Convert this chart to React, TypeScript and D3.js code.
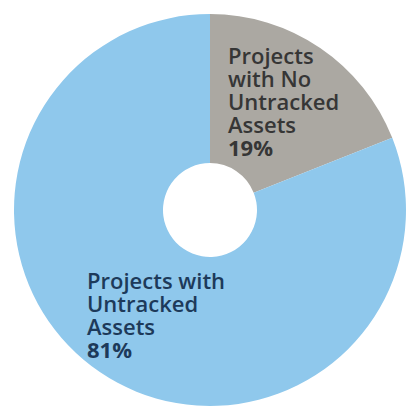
import React from "react";
import * as d3 from "d3";

const categories = ["Projects with No Untracked Assets", "Projects with Untracked Assets"];
const values = [19, 81];
const labelLines = [
  ["Projects", "with No", "Untracked", "Assets"],
  ["Projects with", "Untracked", "Assets"],
];
const colors = ["#aba8a2", "#8fc8ec"];
const textColors = ["#363636", "#1d3a5a"];

export default function App() {
  const W = 411, H = 410;
  const cx = 210, cy = 210, R = 196, r = 47;
  const pie = d3.pie<number>().sort(null).value((d) => d)(values);
  const arc = d3.arc<d3.PieArcDatum<number>>().innerRadius(r).outerRadius(R);
  const labelPos = [
    { x: 228, y: 64 },
    { x: 87, y: 289 },
  ];
  const lh = 23;
  return (
    <svg width={W} height={H} style={{ position: "absolute", left: 0, top: 0 }}>
      <rect width={W} height={H} fill="#ffffff" />
      <g transform={`translate(${cx},${cy})`}>
        {pie.map((p, i) => (
          <path key={categories[i]} d={arc(p) || ""} fill={colors[i]} />
        ))}
      </g>
      {labelLines.map((lines, i) => (
        <text
          key={i}
          x={labelPos[i].x}
          y={labelPos[i].y}
          fill={textColors[i]}
          fontFamily="'Open Sans', sans-serif"
          fontSize={22}
          fontWeight={600}
        >
          {lines.map((l, j) => (
            <tspan key={j} x={labelPos[i].x} dy={j === 0 ? 0 : lh}>
              {l}
            </tspan>
          ))}
          <tspan x={labelPos[i].x} dy={lh} fontWeight={700}>
            {values[i]}%
          </tspan>
        </text>
      ))}
    </svg>
  );
}
